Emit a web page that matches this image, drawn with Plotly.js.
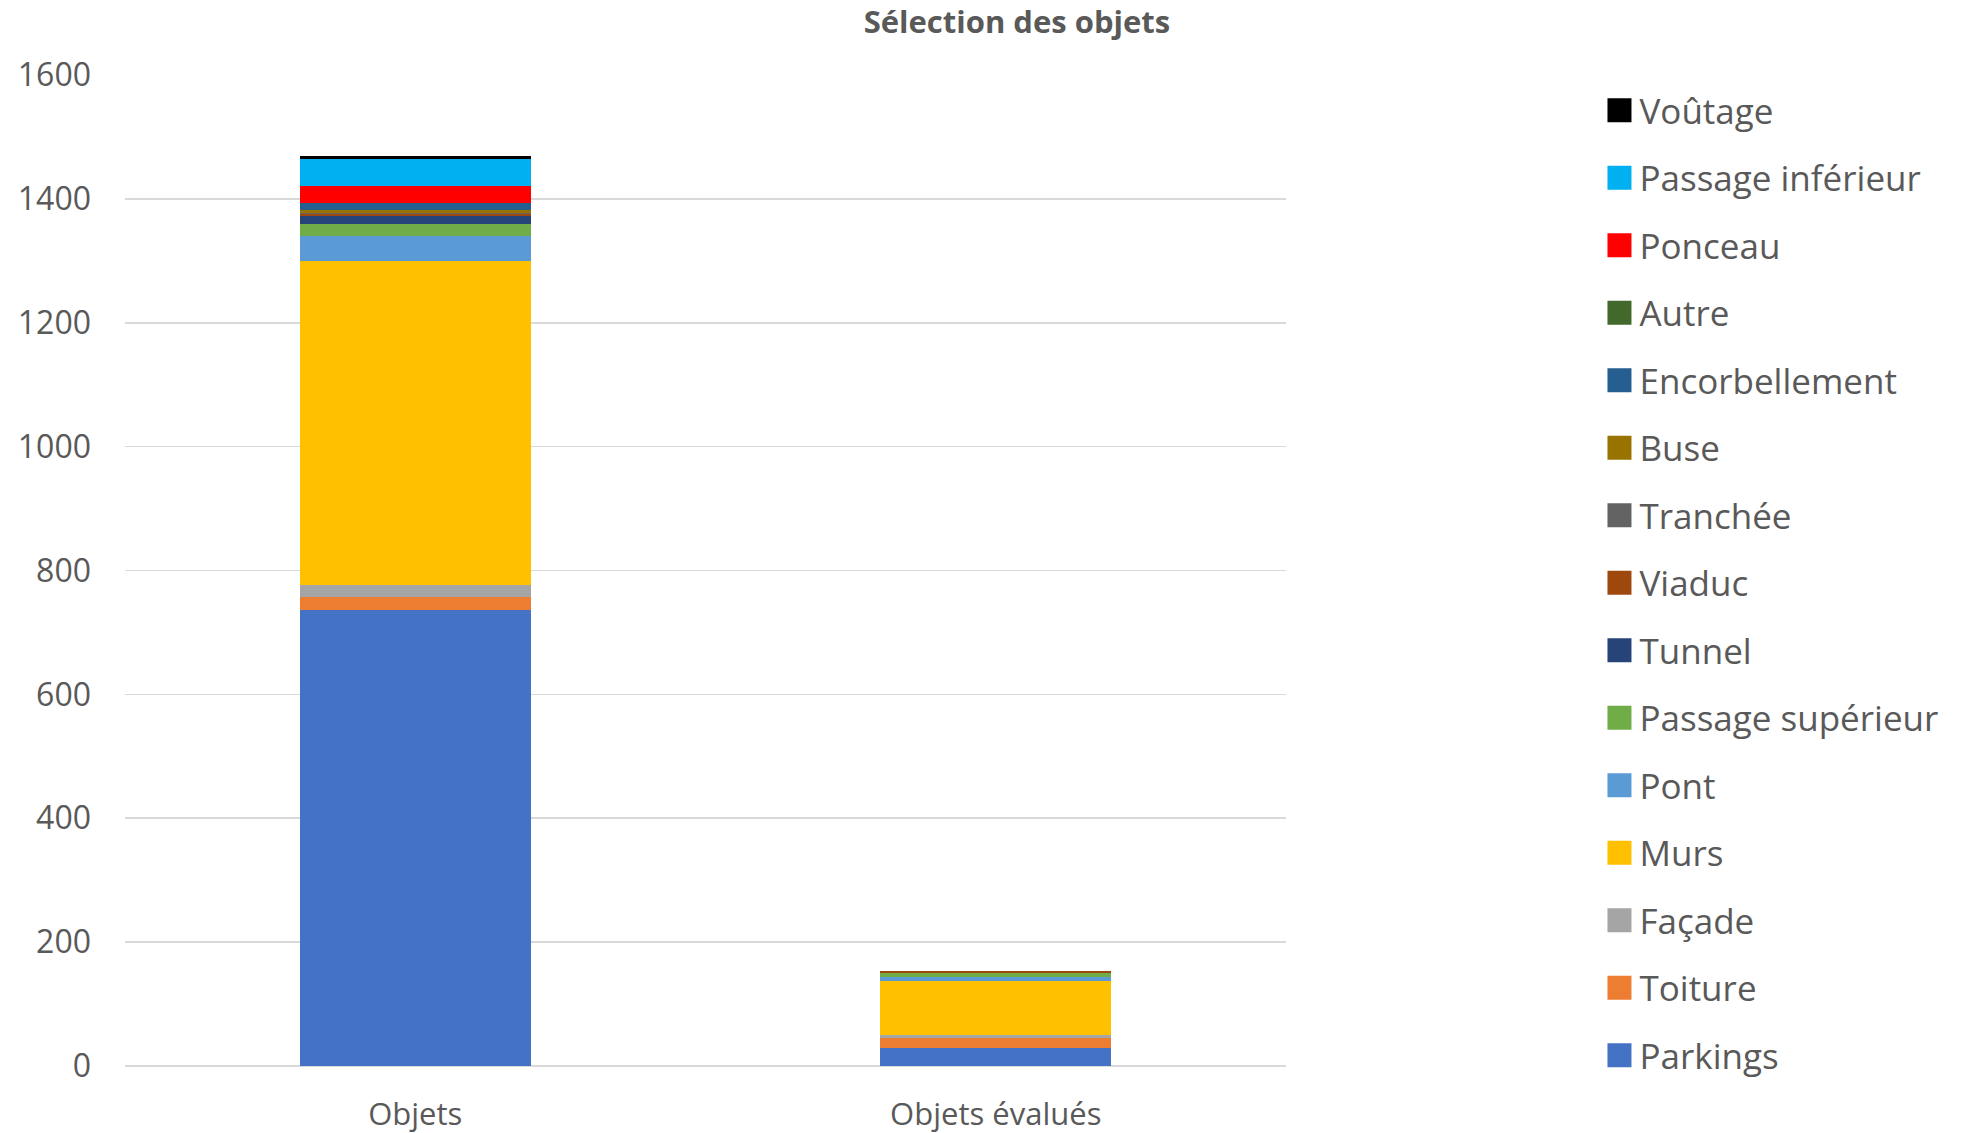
<!DOCTYPE html>
<html>
<head>
<meta charset="utf-8">
<script src="https://cdn.plot.ly/plotly-3.0.1.min.js"></script>
<style>html,body{margin:0;padding:0;background:#fff;}#chart{width:1967px;height:1133px;}</style>
</head>
<body>
<div id="chart"></div>
<script>
// Categories (x axis)
const categories = ['Objets', 'Objets évalués'];

// Series values, bottom of stack first
const parkings          = [737, 29];
const toiture           = [20, 17];
const facade            = [20, 4];
const murs              = [523, 88];
const pont              = [40, 6];
const passageSuperieur  = [20, 6];
const tunnel            = [12, 0];
const viaduc            = [4, 3];
const tranchee          = [1, 0];
const buse              = [5, 0];
const encorbellement    = [11, 0];
const autre             = [0, 0];
const ponceau           = [28, 0];
const passageInferieur  = [44, 0];
const voutage           = [4, 0];

const yTicks = [0, 200, 400, 600, 800, 1000, 1200, 1400, 1600];

const series = [
  ['Parkings', parkings, '#4472C4'],
  ['Toiture', toiture, '#ED7D31'],
  ['Façade', facade, '#A5A5A5'],
  ['Murs', murs, '#FFC000'],
  ['Pont', pont, '#5B9BD5'],
  ['Passage supérieur', passageSuperieur, '#70AD47'],
  ['Tunnel', tunnel, '#264478'],
  ['Viaduc', viaduc, '#9E480E'],
  ['Tranchée', tranchee, '#636363'],
  ['Buse', buse, '#997300'],
  ['Encorbellement', encorbellement, '#255E91'],
  ['Autre', autre, '#43682B'],
  ['Ponceau', ponceau, '#FF0000'],
  ['Passage inférieur', passageInferieur, '#00B0F0'],
  ['Voûtage', voutage, '#000000']
];

const traces = series.map(([name, vals, color], i) => ({
  type: 'bar',
  name: name,
  x: categories,
  y: vals,
  legendgroup: name,
  legendrank: 1000 - i,
  marker: {color: color, line: {width: 0}},
  hoverinfo: 'name+y'
}));

const textColor = '#595959';
const gridColor = '#D9D9D9';

const layout = {
  width: 1967,
  height: 1133,
  paper_bgcolor: '#ffffff',
  plot_bgcolor: '#ffffff',
  barmode: 'stack',
  bargap: 0.602,
  margin: {l: 125, r: 681, t: 75, b: 67, pad: 0},
  font: {family: '"Open Sans", sans-serif', color: textColor},
  title: {
    text: '<b>Sélection des objets</b>',
    font: {family: '"Open Sans", sans-serif', size: 31, color: textColor},
    xref: 'container', yref: 'container',
    x: 0.517, xanchor: 'center',
    y: 0.9805, yanchor: 'middle'
  },
  xaxis: {
    type: 'category',
    showgrid: false,
    showline: false,
    ticks: '',
    tickfont: {size: 31, color: textColor},
    ticklabelstandoff: 27
  },
  yaxis: {
    range: [0, 1600],
    tickvals: yTicks,
    ticktext: yTicks.map(String),
    showgrid: true,
    gridcolor: gridColor,
    gridwidth: 1.7,
    zeroline: true,
    zerolinecolor: gridColor,
    zerolinewidth: 1.7,
    showline: false,
    ticks: '',
    tickfont: {size: 32, color: textColor},
    ticklabelstandoff: 33
  },
  showlegend: true,
  legend: {
    x: 1.270, xanchor: 'left',
    y: 0.994, yanchor: 'top',
    traceorder: 'grouped',
    tracegroupgap: 19,
    maxheight: 1133,
    font: {size: 35, color: textColor},
    bgcolor: 'rgba(0,0,0,0)'
  }
};

Plotly.newPlot('chart', traces, layout, {displayModeBar: false, staticPlot: true}).then(gd => {
  // enlarge legend swatches to match the reference's square markers
  gd.querySelectorAll('.legend .legendpoints path').forEach(p => {
    const t = p.getAttribute('transform') || '';
    p.setAttribute('transform', t + ' scale(2)');
  });
});
</script>
</body>
</html>
